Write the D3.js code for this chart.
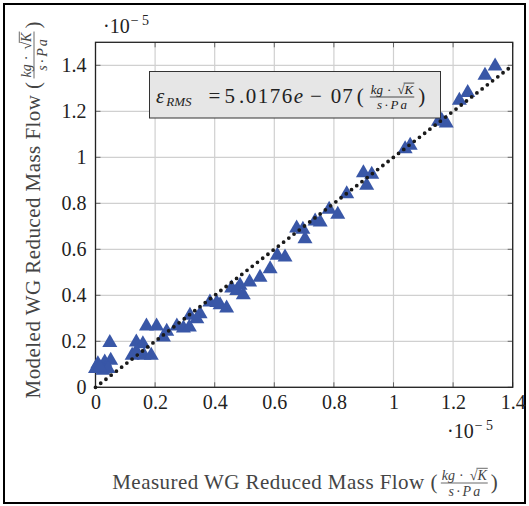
<!DOCTYPE html>
<html>
<head>
<meta charset="utf-8">
<script src="https://cdn.jsdelivr.net/npm/d3@7"></script>
<style>
body { margin: 0; background: #fff; }
svg { display: block; }
text { font-family: "Liberation Serif", "Times New Roman", serif; }
</style>
</head>
<body>
<svg id="chart" width="529" height="506"></svg>
<script>
// values are in units of 1e-5
const measured = [1.341, 1.307, 1.249, 1.221, 1.151, 1.162, 1.177, 1.056, 1.039, 0.899,
  0.927, 0.910, 0.843, 0.784, 0.813, 0.737, 0.754, 0.675, 0.696, 0.703,
  0.610, 0.636, 0.586, 0.552, 0.517, 0.485, 0.496, 0.457, 0.474, 0.440,
  0.418, 0.384, 0.407, 0.351, 0.317, 0.340, 0.273, 0.295, 0.315, 0.239,
  0.205, 0.228, 0.171, 0.137, 0.159, 0.123, 0.163, 0.187, 0.137, 0.048,
  0.008, 0.000, 0.031, 0.051, 0.025, 0.042, 0.014];
const modeled = [1.406, 1.365, 1.290, 1.257, 1.165, 1.170, 1.158, 1.061, 1.046, 0.942,
  0.935, 0.887, 0.850, 0.783, 0.761, 0.732, 0.727, 0.701, 0.696, 0.655,
  0.583, 0.575, 0.524, 0.487, 0.467, 0.452, 0.411, 0.440, 0.430, 0.353,
  0.368, 0.380, 0.377, 0.329, 0.322, 0.307, 0.275, 0.267, 0.271, 0.252,
  0.275, 0.227, 0.275, 0.206, 0.198, 0.148, 0.148, 0.148, 0.165, 0.203,
  0.111, 0.090, 0.119, 0.126, 0.083, 0.090, 0.097];
const idealLine = [0, 1.4];

const xTicks = [0, 0.2, 0.4, 0.6, 0.8, 1, 1.2, 1.4];
const xTickLabels = ["0", "0.2", "0.4", "0.6", "0.8", "1", "1.2", "1.4"];
const yTicks = [0, 0.2, 0.4, 0.6, 0.8, 1, 1.2, 1.4];
const yTickLabels = ["0", "0.2", "0.4", "0.6", "0.8", "1", "1.2", "1.4"];

const svg = d3.select("#chart");

const x = d3.scaleLinear().domain([0, 1.4]).range([95.5, 512.7]);
const y = d3.scaleLinear().domain([0, 1.5]).range([387.3, 42.3]);

// outer frame
svg.append("rect")
  .attr("x", 4).attr("y", 4).attr("width", 521).attr("height", 499)
  .attr("fill", "none").attr("stroke", "#000").attr("stroke-width", 2);

// grid
svg.append("g").selectAll("line").data(xTicks).enter().append("line")
  .attr("x1", d => x(d)).attr("x2", d => x(d))
  .attr("y1", y.range()[0]).attr("y2", y.range()[1])
  .attr("stroke", "#d0d0d0").attr("stroke-width", 1.2);
svg.append("g").selectAll("line").data(yTicks).enter().append("line")
  .attr("x1", x.range()[0]).attr("x2", x.range()[1])
  .attr("y1", d => y(d)).attr("y2", d => y(d))
  .attr("stroke", "#d0d0d0").attr("stroke-width", 1.2);

// small inner ticks on all sides
const tk = svg.append("g").attr("stroke", "#666").attr("stroke-width", 1);
xTicks.forEach(d => {
  tk.append("line").attr("x1", x(d)).attr("x2", x(d)).attr("y1", y.range()[0]).attr("y2", y.range()[0] - 5);
  tk.append("line").attr("x1", x(d)).attr("x2", x(d)).attr("y1", y.range()[1]).attr("y2", y.range()[1] + 5);
});
yTicks.forEach(d => {
  tk.append("line").attr("x1", x.range()[0]).attr("x2", x.range()[0] + 5).attr("y1", y(d)).attr("y2", y(d));
  tk.append("line").attr("x1", x.range()[1]).attr("x2", x.range()[1] - 5).attr("y1", y(d)).attr("y2", y(d));
});

// axes labels
const xAxis = svg.append("g")
  .attr("transform", `translate(0,${y.range()[0]})`)
  .call(d3.axisBottom(x).tickValues(xTicks).tickFormat((d, i) => xTickLabels[i]).tickSize(0).tickPadding(8));
const yAxis = svg.append("g")
  .attr("transform", `translate(${x.range()[0]},0)`)
  .call(d3.axisLeft(y).tickValues(yTicks).tickFormat((d, i) => yTickLabels[i]).tickSize(0).tickPadding(9));
[xAxis, yAxis].forEach(a => {
  a.select(".domain").remove();
  a.selectAll("text").attr("font-size", 20).attr("fill", "#222");
});

// plot frame
svg.append("rect")
  .attr("x", x.range()[0]).attr("y", y.range()[1])
  .attr("width", x.range()[1] - x.range()[0]).attr("height", y.range()[0] - y.range()[1])
  .attr("fill", "none").attr("stroke", "#222").attr("stroke-width", 1.3);

// markers
const tri = "M0,-6.5L7.5,6.5L-7.5,6.5Z";
svg.append("g").selectAll("path").data(measured).enter().append("path")
  .attr("d", tri)
  .attr("transform", (d, i) => `translate(${x(d)},${y(modeled[i])})`)
  .attr("fill", "#3957a7");

// ideal line
svg.append("line")
  .attr("x1", x(idealLine[0])).attr("y1", y(idealLine[0]))
  .attr("x2", x(idealLine[1])).attr("y2", y(idealLine[1]))
  .attr("stroke", "#1a1a1a").attr("stroke-width", 3.8)
  .attr("stroke-linecap", "round").attr("stroke-dasharray", "0 6.6");

// helpers for math-like text
function seq(g, x0, y0, parts) {
  let cx = x0;
  const out = [];
  parts.forEach(p => {
    cx += p.gap || 0;
    const t = g.append("text").attr("x", cx).attr("y", y0 + (p.dy || 0))
      .attr("font-size", p.size).attr("font-style", p.italic ? "italic" : null)
      .attr("letter-spacing", p.ls || null)
      .text(p.t);
    const w = t.node().getComputedTextLength();
    out.push({ x: cx, w: w });
    cx += w;
  });
  return { end: cx, out: out };
}

function fraction(g, x0, base, s, stroke) {
  const bar = base - 6;
  const ng = g.append("g");
  const num = seq(ng, 0, bar - 3.5, [
    { t: "kg", size: s, italic: true }, { t: "·", size: s, gap: 4 },
    { t: "√", size: s, gap: 6 }, { t: "K", size: s, italic: true }]);
  const k = num.out[3];
  ng.append("line").attr("x1", k.x - 1).attr("x2", k.x + k.w + 1)
    .attr("y1", bar - 3.5 - s * 0.8).attr("y2", bar - 3.5 - s * 0.8)
    .attr("stroke", stroke).attr("stroke-width", 0.8);
  const dg = g.append("g");
  const den = seq(dg, 0, bar + s * 0.92, [
    { t: "s", size: s, italic: true }, { t: "·", size: s, gap: 2 },
    { t: "P", size: s, italic: true, gap: 2 }, { t: "a", size: s, italic: true, gap: 2 }]);
  const w = Math.max(num.end, den.end) + 2;
  ng.attr("transform", `translate(${x0 + (w - num.end) / 2},0)`);
  dg.attr("transform", `translate(${x0 + (w - den.end) / 2},0)`);
  g.append("line").attr("x1", x0).attr("x2", x0 + w).attr("y1", bar).attr("y2", bar)
    .attr("stroke", stroke).attr("stroke-width", 0.8);
  return x0 + w;
}

function axisTitle(g, label, color) {
  g.attr("fill", color);
  const r = seq(g, 0, 0, [{ t: label + " (", size: 21, ls: 0.45 }]);
  const e = fraction(g, r.end + 3, 0, 14, color);
  const c = seq(g, e + 3, 0, [{ t: ")", size: 21 }]);
  return c.end;
}

// x title
const xt = svg.append("g");
const xw = axisTitle(xt, "Measured WG Reduced Mass Flow", "#444");
xt.attr("transform", `translate(${305 - xw / 2},489)`);

// y title
const yt = svg.append("g");
const yw = axisTitle(yt, "Modeled WG Reduced Mass Flow", "#444");
yt.attr("transform", `translate(40,${210 + yw / 2}) rotate(-90)`);

// exponent labels
function expo(g) {
  g.attr("fill", "#222");
  seq(g, 0, 0, [{ t: "·10", size: 20 }, { t: "− 5", size: 14, dy: -8, gap: 1 }]);
}
expo(svg.append("g").attr("transform", "translate(103,33)"));
expo(svg.append("g").attr("transform", "translate(447,438)"));

// error box
svg.append("rect")
  .attr("x", 149.5).attr("y", 71.5).attr("width", 291).attr("height", 46.5)
  .attr("fill", "#e6e6e6").attr("stroke", "#333").attr("stroke-width", 1);
const lg = svg.append("g").attr("fill", "#222");
const lt = seq(lg, 156, 103, [
  { t: "ε", size: 21, italic: true },
  { t: "RMS", size: 13, italic: true, dy: 3, gap: 2 },
  { t: "=", size: 21, gap: 17 },
  { t: "5", size: 21, gap: 4 },
  { t: ".0176", size: 21, gap: 4, ls: 1.5 },
  { t: "e", size: 21, italic: true },
  { t: "−", size: 21, gap: 7 },
  { t: "07", size: 21, gap: 9, ls: 1 },
  { t: "(", size: 21, gap: 3 }]);
const fe = fraction(lg, lt.end + 6, 103, 13, "#222");
seq(lg, fe + 4, 103, [{ t: ")", size: 21 }]);
</script>
</body>
</html>
